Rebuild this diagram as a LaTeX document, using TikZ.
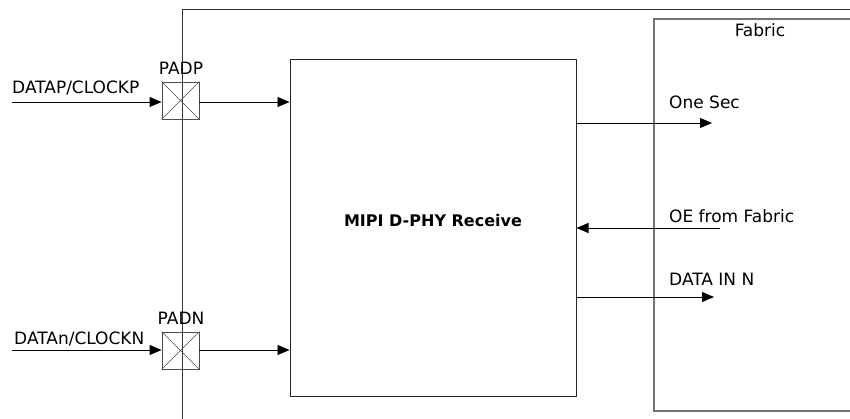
\documentclass[tikz,border=0pt]{standalone}
\usepackage{fontspec}
\setmainfont{DejaVu Sans}
\usetikzlibrary{arrows.meta}
\begin{document}
\begin{tikzpicture}[x=1pt,y=-1pt,
  lbl/.style={font=\fontsize{17}{20}\selectfont, inner sep=0pt},
  pad/.style={draw=black!70, line width=0.9pt, minimum size=37pt, inner sep=0pt},
  sig/.style={line width=0.9pt, -{Triangle[length=12pt,width=10pt]}},
  frame/.style={draw=black!80, line width=1pt},
  fab/.style={draw=black!55, line width=1.2pt}]
\useasboundingbox (0,0) rectangle (850,419);
% outer frame
\draw[frame] (182,419) -- (182,10) -- (850,10);
% fabric box
\draw[fab] (850,19) -- (654,19) -- (654,411) -- (850,411);
\node[lbl] (fabric) at (760,30) {Fabric};
% MIPI box
\node[draw=black!85, line width=1pt, minimum width=286pt, minimum height=336pt, inner sep=0pt] (mipi) at (433,228) {};
\node[inner sep=0pt, font=\fontsize{16}{19}\selectfont\bfseries] (mipit) at (433,221) {MIPI D-PHY Receive};
% pads
\node[pad] (padp) at (180.5,100.5) {};
\draw[black!70, line width=0.6pt] (padp.north west) -- (padp.south east) (padp.north east) -- (padp.south west);
\node[pad] (padn) at (180.5,350.5) {};
\draw[black!70, line width=0.6pt] (padn.north west) -- (padn.south east) (padn.north east) -- (padn.south west);
\node[lbl] (padpl) at (181,68) {PADP};
\node[lbl] (padnl) at (181,318) {PADN};
% inputs
\coordinate (inp) at (12,102);
\coordinate (inn) at (12,350);
\node[lbl, anchor=west] (dp) at (12,88) {DATAP/CLOCKP};
\node[lbl, anchor=west] (dn) at (14,339) {DATAn/CLOCKN};
\draw[sig] (inp) -- (padp.west |- inp);
\draw[sig] (inn) -- (padn.west |- inn);
\draw[sig] (padp.east |- inp) -- (mipi.west |- inp);
\draw[sig] (padn.east |- inn) -- (mipi.west |- inn);
% outputs
\coordinate (os) at (712,123);
\coordinate (oe) at (720,228);
\coordinate (dn2) at (714,297);
\draw[sig] (mipi.east |- os) -- (os);
\draw[sig] (oe) -- (mipi.east |- oe);
\draw[sig] (mipi.east |- dn2) -- (dn2);
\node[lbl, anchor=west] (osl) at (669,102) {One Sec};
\node[lbl, anchor=west] (oel) at (669,216) {OE from Fabric};
\node[lbl, anchor=west] (dnl) at (669,279) {DATA IN N};
\end{tikzpicture}
\end{document}
